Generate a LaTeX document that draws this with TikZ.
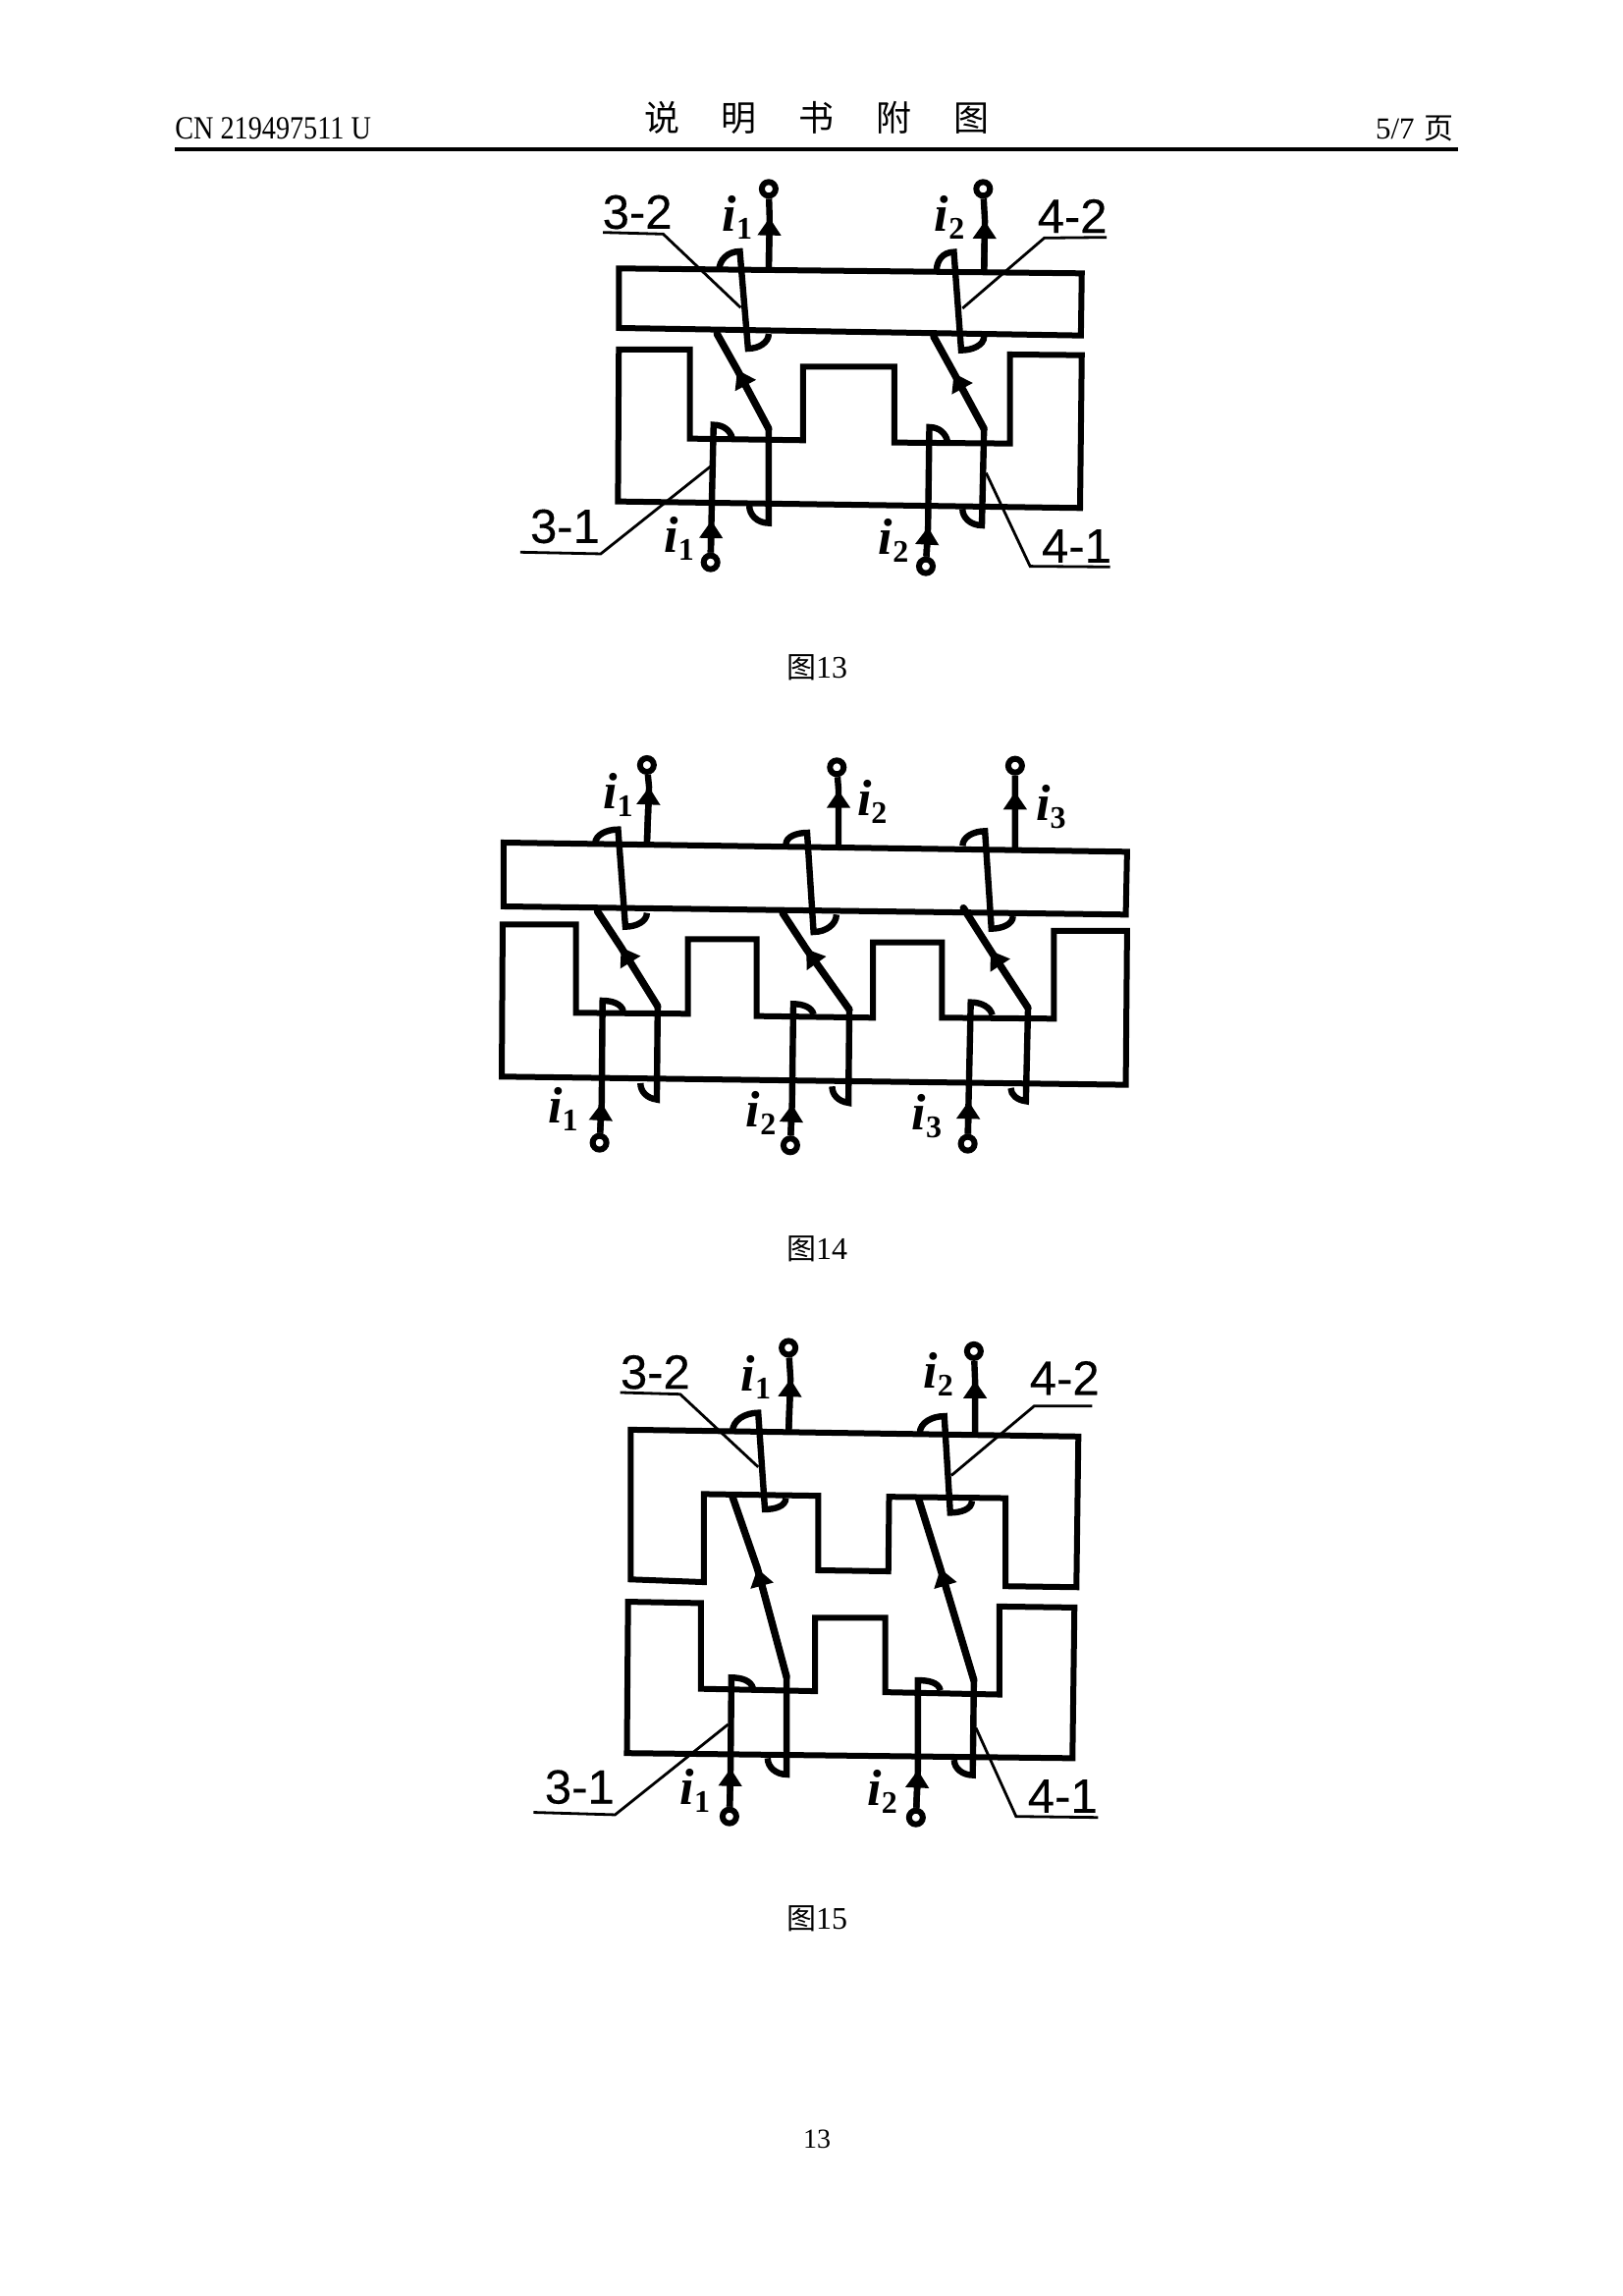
\documentclass[tikz,border=0pt]{standalone}
\usepackage{fontspec}
\usetikzlibrary{arrows.meta}
\setmainfont{Liberation Serif}
\newfontfamily\lsans[FakeBold=0.25]{Liberation Sans}
\newfontfamily\cjk{Noto Sans CJK SC}
\newcommand{\ilab}[1]{{\fontsize{26}{26}\selectfont\bfseries\itshape i}\raisebox{-4pt}{\fontsize{16}{16}\selectfont\bfseries #1}}
\newcommand{\numlab}[1]{{\lsans\fontsize{24.5}{24.5}\selectfont #1}}
\tikzset{
 core/.style={line width=3pt,line join=miter},
 wire/.style={line width=3.2pt,line join=miter},
 diag/.style={line width=3.7pt,line join=miter,line cap=round},
 ar/.style={-{Triangle[length=9pt,width=11.5pt]}},
 term/.style={circle,draw,line width=3pt,fill=white,inner sep=0pt,minimum size=7pt},
 lead/.style={line width=1.4pt},
 txt/.style={inner sep=0pt,text=black},
 ilabel/.style={inner sep=0pt},
 numl/.style={inner sep=0pt},
}
\begin{document}
\begin{tikzpicture}[x=0.5pt,y=-0.5pt]
\useasboundingbox[fill=white] (0,0) rectangle (1653,2338);
% header
\node[txt,anchor=west] (hl) at (178,131) {\scalebox{0.94}[1.1]{\fontsize{15}{15}\selectfont CN 219497511 U}};
\node[txt] (ht) at (832,120) {\cjk\fontsize{18}{18}\selectfont 说\hspace{21.5pt}明\hspace{21.5pt}书\hspace{21.5pt}附\hspace{21.5pt}图};
\node[txt,anchor=east] (hr) at (1481,131) {\fontsize{15.5}{15.5}\selectfont 5/7\hspace{5pt}{\cjk\fontsize{15}{15}\selectfont 页}};
\fill (178,150) rectangle (1485,154);
\node[txt] (c13) at (832,680) {{\cjk\fontsize{15}{15}\selectfont 图}{\fontsize{16}{16}\selectfont 13}};
\node[txt] (c14) at (832,1272) {{\cjk\fontsize{15}{15}\selectfont 图}{\fontsize{16}{16}\selectfont 14}};
\node[txt] (c15) at (832,1954) {{\cjk\fontsize{15}{15}\selectfont 图}{\fontsize{16}{16}\selectfont 15}};
\node[txt] (pg) at (832,2178) {\fontsize{14}{14}\selectfont 13};

% ===== Figure 13
\begin{scope}[shift={(500,160)},xscale=0.4386,yscale=0.3333]
\draw[core] (297,340) -- (1372,355) -- (1370,545) -- (297,522) -- cycle;
\draw[core] (297,588) -- (462,588) -- (462,860) -- (725,865) -- (725,640) -- (937,640) -- (937,872) -- (1205,875) -- (1205,603) -- (1372,605) -- (1368,1072) -- (295,1052) -- cycle;
\node[term] (a1) at (510,1238) {};
\draw[wire] (a1) -- (512,1110) -- (517,818) to[out=0,in=100] (560,858);
\draw[wire,ar] (a1) -- (512,1110);
\draw[wire] (600,1065) to[out=-90,in=180] (645,1118) -- (645,830);
\draw[diag] (645,830) -- (572,650) -- (525,540);
\draw[wire,ar] (645,830) -- (572,650);
\draw[wire] (530,345) to[out=90,in=180] (578,288) -- (597,585) to[out=0,in=-90] (645,540);
\node[term] (b1) at (645,97) {};
\draw[wire] (645,345) -- (647,185) -- (b1);
\draw[wire,ar] (645,345) -- (647,185);
\node[term] (a2) at (1010,1250) {};
\draw[wire] (a2) -- (1015,1130) -- (1018,825) to[out=0,in=100] (1060,868);
\draw[wire,ar] (a2) -- (1015,1130);
\draw[wire] (1095,1075) to[out=-90,in=180] (1140,1125) -- (1145,830);
\draw[diag] (1145,830) -- (1075,660) -- (1028,548);
\draw[wire,ar] (1145,830) -- (1075,660);
\draw[wire] (1035,345) to[out=90,in=180] (1075,290) -- (1092,590) to[out=0,in=-90] (1145,548);
\node[term] (b2) at (1143,97) {};
\draw[wire] (1145,350) -- (1147,195) -- (b2);
\draw[wire,ar] (1145,350) -- (1147,195);
\node[numl] (l32) at (340,168) {\numlab{3-2}};
\node[numl] (l42) at (1350,180) {\numlab{4-2}};
\node[numl] (l31) at (172,1128) {\numlab{3-1}};
\node[numl] (l41) at (1360,1188) {\numlab{4-1}};
\draw[lead] (260,230) -- (400,235) -- (580,460);
\draw[lead] (1430,245) -- (1285,247) -- (1095,462);
\draw[lead] (68,1207) -- (255,1212) -- (510,945);
\draw[lead] (1438,1252) -- (1252,1250) -- (1150,965);
\node[ilabel] (i1t) at (572,185) {\ilab{1}};
\node[ilabel] (i2t) at (1065,185) {\ilab{2}};
\node[ilabel] (i1b) at (437,1165) {\ilab{1}};
\node[ilabel] (i2b) at (935,1170) {\ilab{2}};
\end{scope}

% ===== Figure 14
\begin{scope}[shift={(490,753)},xscale=0.4386,yscale=0.3333]
\draw[core] (52,315) -- (1500,343) -- (1497,535) -- (52,510) -- cycle;
\draw[core] (50,565) -- (220,565) -- (220,835) -- (480,838) -- (480,610) -- (640,610) -- (640,845) -- (910,850) -- (910,620) -- (1070,620) -- (1070,850) -- (1330,853) -- (1330,585) -- (1500,585) -- (1497,1055) -- (48,1030) -- cycle;
\node[term] (p1) at (275,1232) {};
\draw[wire] (p1) -- (280,1110) -- (282,798) to[out=0,in=100] (330,830);
\draw[wire,ar] (p1) -- (280,1110);
\draw[wire] (370,1050) to[out=-90,in=170] (408,1100) -- (410,815);
\draw[diag] (410,815) -- (325,635) -- (270,525);
\draw[wire,ar] (410,815) -- (325,635);
\draw[wire] (265,318) to[out=90,in=180] (318,275) -- (335,572) to[out=0,in=-90] (385,530);
\node[term] (q1) at (385,78) {};
\draw[wire] (385,318) -- (390,145) -- (q1);
\draw[wire,ar] (385,318) -- (390,145);
\node[term] (p2) at (718,1240) {};
\draw[wire] (p2) -- (722,1115) -- (725,808) to[out=0,in=100] (772,840);
\draw[wire,ar] (p2) -- (722,1115);
\draw[wire] (815,1060) to[out=-90,in=170] (853,1110) -- (855,825);
\draw[diag] (855,825) -- (755,640) -- (700,530);
\draw[wire,ar] (855,825) -- (755,640);
\draw[wire] (708,320) to[out=90,in=180] (757,285) -- (772,588) to[out=0,in=-90] (825,535);
\node[term] (q2) at (826,85) {};
\draw[wire] (830,335) -- (830,155) -- (q2);
\draw[wire,ar] (830,335) -- (830,155);
\node[term] (p3) at (1130,1235) {};
\draw[wire] (p3) -- (1132,1105) -- (1137,803) to[out=0,in=100] (1187,842);
\draw[wire,ar] (p3) -- (1132,1105);
\draw[wire] (1230,1065) to[out=-90,in=170] (1265,1105) -- (1270,820);
\draw[diag] (1270,820) -- (1183,645) -- (1120,515);
\draw[wire,ar] (1270,820) -- (1183,645);
\draw[wire] (1118,325) to[out=90,in=180] (1170,280) -- (1185,578) to[out=0,in=-90] (1235,540);
\node[term] (q3) at (1240,80) {};
\draw[wire] (1240,335) -- (1240,160) -- (q3);
\draw[wire,ar] (1240,335) -- (1240,160);
\node[ilabel] (j1t) at (318,170) {\ilab{1}};
\node[ilabel] (j2t) at (908,190) {\ilab{2}};
\node[ilabel] (j3t) at (1323,205) {\ilab{3}};
\node[ilabel] (j1b) at (190,1130) {\ilab{1}};
\node[ilabel] (j2b) at (650,1140) {\ilab{2}};
\node[ilabel] (j3b) at (1035,1150) {\ilab{3}};
\end{scope}

% ===== Figure 15
\begin{scope}[shift={(520,1349)},xscale=0.4016,yscale=0.3448]
\draw[core] (305,310) -- (1440,330) -- (1435,775) -- (1255,772) -- (1255,512) -- (960,508) -- (958,728) -- (780,725) -- (780,505) -- (490,500) -- (490,760) -- (305,752) -- cycle;
\draw[core] (298,818) -- (483,822) -- (483,1075) -- (772,1082) -- (772,865) -- (950,865) -- (950,1085) -- (1240,1092) -- (1240,832) -- (1430,835) -- (1425,1280) -- (295,1265) -- cycle;
\node[term] (r1) at (555,1452) {};
\draw[wire] (r1) -- (558,1310) -- (560,1042) to[out=0,in=100] (615,1075);
\draw[wire,ar] (r1) -- (558,1310);
\draw[wire] (652,1280) to[out=-90,in=180] (700,1328) -- (700,1040);
\draw[diag] (700,1040) -- (626,720) -- (562,505);
\draw[wire,ar] (700,1040) -- (626,720);
\draw[wire] (563,315) to[out=90,in=180] (628,260) -- (645,545) to[out=0,in=-90] (698,512);
\node[term] (s1) at (705,68) {};
\draw[wire] (705,318) -- (710,160) -- (s1);
\draw[wire,ar] (705,318) -- (710,160);
\node[term] (r2) at (1028,1455) {};
\draw[wire] (r2) -- (1033,1315) -- (1033,1050) to[out=0,in=100] (1090,1080);
\draw[wire,ar] (r2) -- (1033,1315);
\draw[wire] (1125,1285) to[out=-90,in=180] (1172,1330) -- (1175,1050);
\draw[diag] (1175,1050) -- (1090,720) -- (1035,515);
\draw[wire,ar] (1175,1050) -- (1090,720);
\draw[wire] (1038,320) to[out=90,in=180] (1100,270) -- (1115,555) to[out=0,in=-90] (1170,520);
\node[term] (s2) at (1175,78) {};
\draw[wire] (1178,325) -- (1178,165) -- (s2);
\draw[wire,ar] (1178,325) -- (1178,165);
\node[numl] (n32) at (367,140) {\numlab{3-2}};
\node[numl] (n42) at (1405,157) {\numlab{4-2}};
\node[numl] (n31) at (175,1365) {\numlab{3-1}};
\node[numl] (n41) at (1400,1392) {\numlab{4-1}};
\draw[lead] (278,200) -- (430,205) -- (628,420);
\draw[lead] (1475,240) -- (1328,240) -- (1118,445);
\draw[lead] (58,1440) -- (265,1447) -- (552,1180);
\draw[lead] (1490,1455) -- (1282,1452) -- (1180,1190);
\node[ilabel] (k1t) at (622,155) {\ilab{1}};
\node[ilabel] (k2t) at (1085,145) {\ilab{2}};
\node[ilabel] (k1b) at (468,1375) {\ilab{1}};
\node[ilabel] (k2b) at (943,1380) {\ilab{2}};
\end{scope}
\end{tikzpicture}
\end{document}
